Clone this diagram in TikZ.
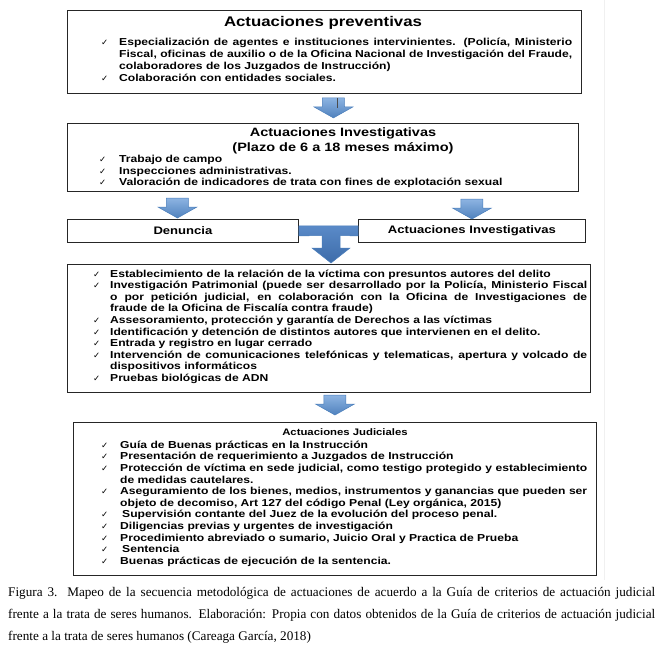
\documentclass[tikz,border=0pt]{standalone}
\usepackage{fontspec}
\setmainfont{Liberation Serif}
\newfontfamily\boxfont{Liberation Sans}[FakeStretch=1.2,BoldFont={Liberation Sans Bold},BoldFeatures={FakeStretch=1.2}]
\newfontfamily\symfont{DejaVu Sans}
\usepackage{xcolor}
\usepackage{tikz}
\definecolor{arrowtop}{HTML}{8DB4E2}
\definecolor{arrowbot}{HTML}{4F81BD}
\definecolor{arrowline}{HTML}{4A7EBB}
\definecolor{bartop}{HTML}{5A8AC8}
\definecolor{barbot}{HTML}{3D6CA9}
\newcommand{\chkmark}{{\symfont\fontsize{8.5}{8.5}\selectfont ✓}}
\newcommand{\chk}[2][18pt]{\par\noindent\hangindent=#1\hangafter=1\makebox[#1][l]{\strut\chkmark}#2}

\begin{document}
\begin{tikzpicture}[x=1pt,y=-1pt,
  box/.style={draw=black!85,line width=0.9pt,inner sep=0pt,anchor=north west,
    font=\boxfont\bfseries\fontsize{10.9}{13}\selectfont},
  boxtitle/.style n args={2}{inner sep=0pt,align=center,
    font=\boxfont\bfseries\fontsize{#1}{#2}\selectfont},
  listtext/.style={anchor=north west,inner sep=0pt,align=justify,
    font=\boxfont\bfseries\fontsize{10.1}{11.7}\selectfont},
  downarrow/.pic={
    \shade[top color=arrowtop,bottom color=arrowbot,draw=arrowline,line width=0.5pt]
      (-11,0) -- (11,0) -- (11,9) -- (19.5,9) -- (0,20) -- (-19.5,9) -- (-11,9) -- cycle;
  }]
  \useasboundingbox (0,0) rectangle (666,656);
  \fill[white] (0,0) rectangle (666,656);
  \draw[gray!12,line width=1pt] (604,0) -- (604,580);

  \node[box,minimum width=514pt,minimum height=83pt] (prev) at (67,9.5) {};
  \node[boxtitle={14}{17}] (prevtitle) at (323,22.5) {Actuaciones preventivas};
  \node[listtext,text width=471pt] (previtems) at (101,34) {%
    \chk{Especialización de agentes e instituciones intervinientes. (Policía, Ministerio\linebreak
      Fiscal, oficinas de auxilio o de la Oficina Nacional de Investigación del Fraude,\linebreak
      colaboradores de los Juzgados de Instrucción)}%
    \chk{Colaboración con entidades sociales.}};

  \node[box,minimum width=511pt,minimum height=68pt] (inv) at (67,123) {};
  \node[boxtitle={12.1}{14.4}] (invtitle) at (343,141) {Actuaciones Investigativas\\(Plazo de 6 a 18 meses máximo)};
  \node[listtext,text width=470pt] (invitems) at (99,150.5) {%
    \chk[20pt]{Trabajo de campo}%
    \chk[20pt]{Inspecciones administrativas.}%
    \chk[20pt]{Valoración de indicadores de trata con fines de explotación sexual}};

  \node[box,minimum width=231pt,minimum height=23pt] (den) at (67,219) {Denuncia};
  \node[box,minimum width=227pt,minimum height=23pt] (invr) at (358,219) {Actuaciones Investigativas};

  \node[box,minimum width=523pt,minimum height=128pt] (dilig) at (67,264) {};
  \node[listtext,text width=494pt,font=\boxfont\bfseries\fontsize{10.1}{11.55}\selectfont] (diligitems) at (93,265.5) {%
    \chk[17pt]{Establecimiento de la relación de la víctima con presuntos autores del delito}%
    \chk[17pt]{Investigación Patrimonial (puede ser desarrollado por la Policía, Ministerio Fiscal\linebreak
      o por petición judicial, en colaboración con la Oficina de Investigaciones de\linebreak
      fraude de la Oficina de Fiscalía contra fraude)}%
    \chk[17pt]{Assesoramiento, protección y garantía de Derechos a las víctimas}%
    \chk[17pt]{Identificación y detención de distintos autores que intervienen en el delito.}%
    \chk[17pt]{Entrada y registro en lugar cerrado}%
    \chk[17pt]{Intervención de comunicaciones telefónicas y telematicas, apertura y volcado de\linebreak
      dispositivos informáticos}%
    \chk[17pt]{Pruebas biológicas de ADN}};

  \node[box,minimum width=523pt,minimum height=153pt] (judic) at (73,422) {};
  \node[boxtitle={9.45}{12}] (judictitle) at (345,432) {Actuaciones Judiciales};
  \node[listtext,text width=486pt,font=\boxfont\bfseries\fontsize{10.1}{11.6}\selectfont] (judicitems) at (101,436.5) {%
    \chk[19pt]{Guía de Buenas prácticas en la Instrucción}%
    \chk[19pt]{Presentación de requerimiento a Juzgados de Instrucción}%
    \chk[19pt]{Protección de víctima en sede judicial, como testigo protegido y establecimiento\linebreak
      de medidas cautelares.}%
    \chk[19pt]{Aseguramiento de los bienes, medios, instrumentos y ganancias que pueden ser\linebreak
      objeto de decomiso, Art 127 del código Penal (Ley orgánica, 2015)}%
    \chk[19pt]{\hspace{2pt}Supervisión contante del Juez de la evolución del proceso penal.}%
    \chk[19pt]{Diligencias previas y urgentes de investigación}%
    \chk[19pt]{Procedimiento abreviado o sumario, Juicio Oral y Practica de Prueba}%
    \chk[19pt]{\hspace{2pt}Sentencia}%
    \chk[19pt]{Buenas prácticas de ejecución de la sentencia.}};

  \path (prev.south) ++(9,4.5) pic {downarrow};
  \draw[black!70,line width=0.6pt] (prev.south) ++(13,4.5) -- ++(0,10);
  \path (den.north) ++(-5.5,-21) pic {downarrow};
  \path (invr.north) ++(0,-20) pic {downarrow};
  \shade[top color=bartop,bottom color=barbot,draw=arrowline,line width=0.5pt]
    ([yshift=5pt]den.east) -- ([yshift=5pt]invr.west) -- ([yshift=-5pt]invr.west)
    -- (340,235.5) -- (340,248) -- (350,248) -- (331,263) -- (312,248) -- (322,248)
    -- (322,235.5) -- ([yshift=-5pt]den.east) -- cycle;
  \path (judic.north) ++(0,-27) pic {downarrow};

  \node[anchor=north west,inner sep=0pt,text width=647pt,align=justify,
    font=\fontsize{13.2}{22}\selectfont] (caption) at (8,581) {\strut Figura 3.\ \ Mapeo de la secuencia metodológica de actuaciones de acuerdo a la Guía de criterios de actuación judicial\linebreak
    frente a la trata de seres humanos. Elaboración: Propia con datos obtenidos de la Guía de criterios de actuación judicial\linebreak
    frente a la trata de seres humanos (Careaga García, 2018)};
\end{tikzpicture}
\end{document}
